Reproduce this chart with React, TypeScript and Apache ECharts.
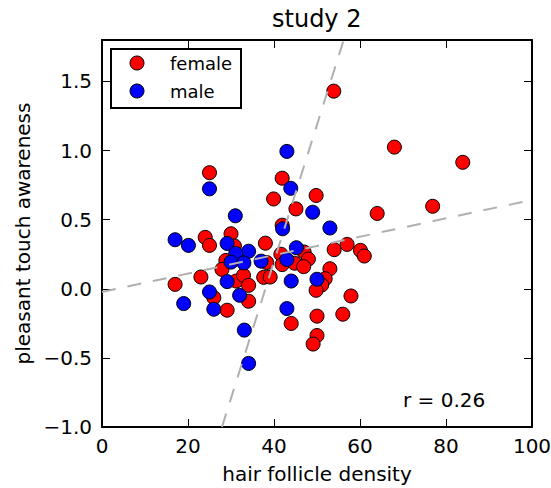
import React, { useEffect, useRef } from "react";
import * as echarts from "echarts";

const femaleX = [53.9, 68.0, 83.9, 76.9, 64.0, 25.0, 41.9, 39.9, 49.8, 45.1, 41.9, 24.0, 25.0, 30.0, 30.8, 38.0, 54.0, 57.0, 60.1, 61.0, 47.0, 48.0, 41.6, 38.3, 41.9, 44.8, 46.9, 53.0, 28.8, 27.9, 23.0, 17.0, 26.0, 29.1, 31.2, 32.9, 34.1, 34.1, 37.6, 39.1, 51.9, 51.1, 49.8, 57.9, 50.0, 56.0, 50.0, 49.1, 44.0];
const femaleY = [1.43, 1.025, 0.915, 0.597, 0.545, 0.84, 0.80, 0.65, 0.675, 0.578, 0.46, 0.372, 0.314, 0.398, 0.31, 0.33, 0.283, 0.321, 0.278, 0.237, 0.266, 0.215, 0.25, 0.19, 0.175, 0.185, 0.16, 0.145, 0.205, 0.14, 0.085, 0.032, -0.064, -0.155, 0.056, 0.097, 0.025, -0.09, 0.083, 0.085, 0.073, 0.028, -0.011, -0.052, -0.198, -0.184, -0.338, -0.40, -0.251];
const maleX = [43.0, 25.0, 43.9, 49.0, 31.0, 53.0, 42.0, 17.0, 20.1, 29.1, 34.1, 31.1, 45.2, 43.0, 37.0, 30.0, 33.0, 29.1, 25.0, 19.0, 26.0, 32.0, 33.1, 34.1, 44.0, 43.0, 50.0];
const maleY = [0.994, 0.723, 0.727, 0.554, 0.528, 0.44, 0.434, 0.355, 0.314, 0.328, 0.272, 0.256, 0.297, 0.212, 0.2, 0.193, 0.187, 0.052, -0.023, -0.107, -0.148, -0.047, -0.299, -0.54, 0.056, -0.143, 0.069];

// regression lines (y on x, and x on y)
const fitYonX_X = [0, 100];
const fitYonX_Y = [-0.023, 0.643];
const fitXonY_X = [27.9, 56.2];
const fitXonY_Y = [-1.0, 1.8];

const xTicks = [0, 20, 40, 60, 80, 100];
const yTicks = [-1.0, -0.5, 0.0, 0.5, 1.0, 1.5];

const titleText = "study 2";
const xName = "hair follicle density";
const yName = "pleasant touch awareness";
const legendNames = ["female", "male"];
const rText = "r = 0.26";

const FONT = "DejaVu Sans";

export default function App() {
  const ref = useRef<HTMLDivElement>(null);
  useEffect(() => {
    if (!ref.current) return;
    const chart = echarts.init(ref.current, null, { renderer: "svg" });
    const fmtY = (v: number) => {
      const r = Math.round(v * 10) / 10;
      if (!yTicks.some((t) => Math.abs(t - r) < 1e-9) || Math.abs(v - r) > 1e-6) return "";
      return (r < 0 ? "\u2212" : "") + Math.abs(r).toFixed(1);
    };
    const axisCommon = {
      axisLine: { show: true, onZero: false, lineStyle: { color: "#000", width: 2 } },
      axisTick: { show: true, inside: true, length: 8, lineStyle: { color: "#000", width: 1 } },
      splitLine: { show: false },
    };
    const option: any = {
      animation: false,
      backgroundColor: "#fff",
      title: {
        text: titleText,
        left: 272,
        top: 7,
        padding: 0,
        textStyle: { fontFamily: FONT, fontSize: 24, fontWeight: "normal", color: "#000" },
      },
      grid: { left: 102, top: 40, right: 19, bottom: 61, containLabel: false, outerBoundsMode: "none" },
      xAxis: [
        {
          type: "value",
          position: "bottom",
          min: 0,
          max: 100,
          interval: 20,
          ...axisCommon,
          axisLabel: {
            color: "#000",
            fontFamily: FONT,
            fontSize: 20,
            margin: 9,
            hideOverlap: false,
            formatter: (v: number) => (xTicks.includes(v) ? String(v) : ""),
          },
          name: xName,
          nameLocation: "middle",
          nameGap: 37,
          nameTextStyle: { fontFamily: FONT, fontSize: 20, color: "#000" },
        },
        {
          type: "value",
          position: "top",
          min: 0,
          max: 100,
          interval: 20,
          ...axisCommon,
          axisLabel: { show: false },
        },
      ],
      yAxis: [
        {
          type: "value",
          position: "left",
          min: -1,
          max: 1.8,
          interval: 0.5,
          ...axisCommon,
          axisLabel: {
            color: "#000",
            fontFamily: FONT,
            fontSize: 20,
            margin: 10,
            showMaxLabel: false,
            formatter: fmtY,
          },
          name: yName,
          nameLocation: "middle",
          nameRotate: 90,
          nameGap: 66,
          nameTextStyle: { fontFamily: FONT, fontSize: 20, color: "#000" },
        },
        {
          type: "value",
          position: "right",
          min: -1,
          max: 1.8,
          interval: 0.5,
          ...axisCommon,
          axisLabel: { show: false },
        },
      ],
      series: [
        {
          name: legendNames[0],
          type: "scatter",
          xAxisIndex: 0,
          yAxisIndex: 0,
          symbol: "circle",
          symbolSize: 14,
          itemStyle: { color: "#ff0000", borderColor: "#000", borderWidth: 1, opacity: 1 },
          data: femaleX.map((x, i) => [x, femaleY[i]]),
          z: 2,
        },
        {
          name: legendNames[1],
          type: "scatter",
          xAxisIndex: 0,
          yAxisIndex: 0,
          symbol: "circle",
          symbolSize: 14,
          itemStyle: { color: "#0000ff", borderColor: "#000", borderWidth: 1, opacity: 1 },
          data: maleX.map((x, i) => [x, maleY[i]]),
          z: 2,
        },
        {
          type: "line",
          xAxisIndex: 0,
          yAxisIndex: 0,
          showSymbol: false,
          symbol: "none",
          clip: true,
          silent: true,
          lineStyle: { color: "#b0b0b0", width: 2, type: [14, 12] },
          data: fitYonX_X.map((x, i) => [x, fitYonX_Y[i]]),
          z: 3,
        },
        {
          type: "line",
          xAxisIndex: 0,
          yAxisIndex: 0,
          showSymbol: false,
          symbol: "none",
          clip: true,
          silent: true,
          lineStyle: { color: "#b0b0b0", width: 2, type: [14, 12] },
          data: fitXonY_X.map((x, i) => [x, fitXonY_Y[i]]),
          z: 3,
        },
      ],
      graphic: [
        {
          type: "rect",
          shape: { x: 111, y: 49, width: 130, height: 59 },
          style: { fill: "#fff", stroke: "#000", lineWidth: 2 },
          z: 10,
        },
        {
          type: "circle",
          shape: { cx: 137, cy: 63, r: 7 },
          style: { fill: "#ff0000", stroke: "#000", lineWidth: 1 },
          z: 11,
        },
        {
          type: "circle",
          shape: { cx: 137, cy: 91, r: 7 },
          style: { fill: "#0000ff", stroke: "#000", lineWidth: 1 },
          z: 11,
        },
        {
          type: "text",
          x: 170,
          y: 63,
          style: { text: legendNames[0], font: `18px '${FONT}'`, fill: "#000", verticalAlign: "middle" },
          z: 11,
        },
        {
          type: "text",
          x: 170,
          y: 91,
          style: { text: legendNames[1], font: `18px '${FONT}'`, fill: "#000", verticalAlign: "middle" },
          z: 11,
        },
        {
          type: "text",
          x: 403,
          y: 400,
          style: { text: rText, font: `20px '${FONT}'`, fill: "#000", verticalAlign: "middle" },
          z: 11,
        },
      ],
    };
    chart.setOption(option);
    return () => chart.dispose();
  }, []);
  return (
    <div
      ref={ref}
      style={{ position: "absolute", left: 0, top: 0, width: 551, height: 488 }}
    />
  );
}
